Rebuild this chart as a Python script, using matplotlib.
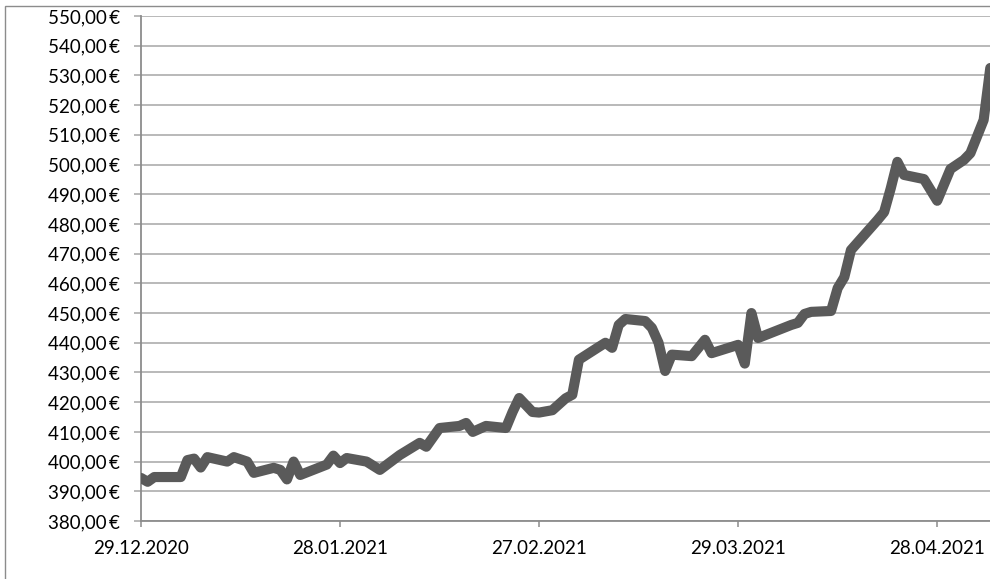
import numpy as np
import pandas as pd
import matplotlib
matplotlib.use('Agg')
import matplotlib.pyplot as plt
import matplotlib.dates as mdates
from matplotlib.ticker import FuncFormatter, MultipleLocator
from matplotlib.patches import Rectangle

# data (closing price in EUR)
dates = ['2020-12-29', '2020-12-30', '2020-12-31', '2021-01-04', '2021-01-05',
         '2021-01-06', '2021-01-07', '2021-01-08', '2021-01-11', '2021-01-12',
         '2021-01-14', '2021-01-15', '2021-01-18', '2021-01-19', '2021-01-20',
         '2021-01-21', '2021-01-22', '2021-01-26', '2021-01-27', '2021-01-28',
         '2021-01-29', '2021-02-01', '2021-02-03', '2021-02-06', '2021-02-09',
         '2021-02-10', '2021-02-12', '2021-02-15', '2021-02-16', '2021-02-17',
         '2021-02-19', '2021-02-22', '2021-02-23', '2021-02-24', '2021-02-26',
         '2021-02-27', '2021-03-01', '2021-03-03', '2021-03-04', '2021-03-05',
         '2021-03-08', '2021-03-09', '2021-03-10', '2021-03-11', '2021-03-12',
         '2021-03-15', '2021-03-16', '2021-03-17', '2021-03-18', '2021-03-19',
         '2021-03-22', '2021-03-24', '2021-03-25', '2021-03-29', '2021-03-30',
         '2021-03-31', '2021-04-01', '2021-04-06', '2021-04-07', '2021-04-08',
         '2021-04-09', '2021-04-12', '2021-04-13', '2021-04-14', '2021-04-15',
         '2021-04-19', '2021-04-20', '2021-04-21', '2021-04-22', '2021-04-23',
         '2021-04-26', '2021-04-28', '2021-04-30', '2021-05-02', '2021-05-03',
         '2021-05-04', '2021-05-05', '2021-05-06']
prices = [394.5, 393.2, 394.8, 394.8, 400.5, 401, 398, 401.5, 400, 401.5,
          400, 396.2, 397.9, 397.2, 394, 400, 395.5, 399, 402, 399.5,
          401.2, 400, 397.2, 402.2, 406.3, 405, 411.3, 412, 413, 410,
          412, 411.3, 416.7, 421.4, 416.7, 416.5, 417.3, 421.3, 422.5, 434.3,
          438.6, 440, 438.3, 446, 448, 447.3, 445, 440, 430.5, 436,
          435.5, 441, 436.5, 439.3, 433, 450, 441.6, 446, 446.7, 449.7,
          450.4, 450.7, 458.4, 462.1, 471.2, 481.3, 484, 492, 500.9, 496.5,
          495.1, 487.8, 498.5, 501.5, 503.8, 509.4, 515, 532.5]

tick_dates = ['2020-12-29', '2021-01-28', '2021-02-27', '2021-03-29', '2021-04-28']

y_min = 380
y_max = 550
y_step = 10

plt.rcParams['font.family'] = ['Lato', 'DejaVu Sans']

W, H = 990, 579
fig = plt.figure(figsize=(W / 100, H / 100), dpi=100)

# plot area in pixels: x0=141, y top=16, y bottom=521, extends past right edge
day_px = 6.635
x_left = 141
x_days = 128.3
ax = fig.add_axes([x_left / W, (H - 521) / H,
                   x_days * day_px / W, (521 - 16) / H])

d = pd.to_datetime(dates)
ax.plot(d, prices, color='#5a5a5a', lw=7.3,
        solid_joinstyle='round', solid_capstyle='round', zorder=3)

t0 = pd.Timestamp(dates[0])
ax.set_xlim(t0, t0 + pd.Timedelta(days=x_days))
ax.set_ylim(y_min, y_max)

ax.yaxis.set_major_locator(MultipleLocator(y_step))
ax.yaxis.set_major_formatter(FuncFormatter(
    lambda v, p: ('%.2f' % v).replace('.', ',') + '\u2009€'))
ax.set_xticks(pd.to_datetime(tick_dates))
ax.xaxis.set_major_formatter(mdates.DateFormatter('%d.%m.%Y'))

ax.grid(axis='y', color='#a6a6a6', lw=1.1, zorder=1)
ax.set_axisbelow(True)
for s in ['top', 'right']:
    ax.spines[s].set_visible(False)
ax.spines['left'].set_color('#8c8c8c')
ax.spines['bottom'].set_color('#8c8c8c')
ax.spines['left'].set_linewidth(1.3)
ax.spines['bottom'].set_linewidth(1.3)

ax.tick_params(axis='y', length=5, width=1.1, color='#a6a6a6', pad=10,
               labelsize=13.5, labelcolor='#000000')
ax.tick_params(axis='x', length=4.5, width=1.1, color='#8c8c8c', pad=9,
               labelsize=13.5, labelcolor='#000000')

# outer chart border (only left and top are inside the picture)
fig.patches.append(Rectangle((4.5 / W, -0.1), 1.2, 1.1 - 5.5 / H,
                             transform=fig.transFigure, fill=False,
                             edgecolor='#8c8c8c', lw=1.0))

fig.savefig('out.png', dpi=100)
